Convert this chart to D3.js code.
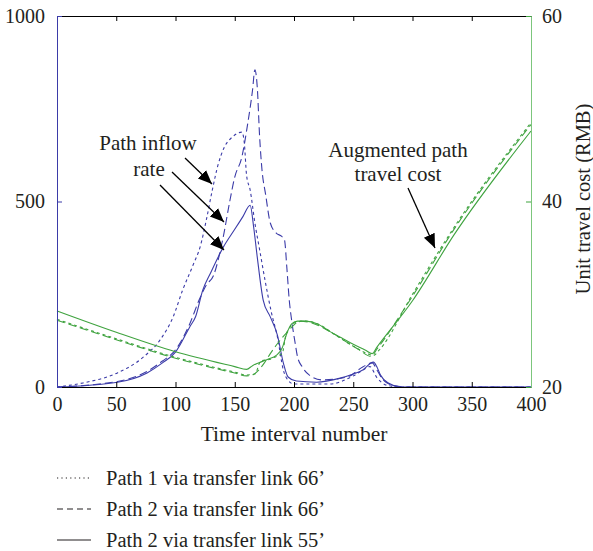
<!DOCTYPE html>
<html>
<head>
<meta charset="utf-8">
<script src="https://cdn.jsdelivr.net/npm/d3@7"></script>
<style>
  body { margin: 0; background: #fff; }
  text { font-family: "Liberation Serif", "DejaVu Serif", serif; fill: #231f20; }
</style>
</head>
<body>
<script>
// ejes
const xTicks = [0, 50, 100, 150, 200, 250, 300, 350, 400];
const leftTicks = [0, 500, 1000];
const rightTicks = [20, 40, 60];

// tasa de entrada (eje izquierdo)
const p1InX = [0, 22, 51, 73, 87, 98, 106, 115, 121, 126, 131, 136, 141, 148, 156, 158, 160, 163, 167, 171, 176, 181, 186, 191, 195, 200, 230, 250, 258, 264, 270, 278, 290, 400];
const p1InY = [0, 11, 38, 81, 127, 189, 261, 330, 380, 450, 530, 600, 645, 674, 687, 660, 570, 531, 442, 370, 280, 200, 135, 46, 18, 8, 8, 30, 45, 55, 25, 5, 0, 0];

const p2aInX = [0, 51, 76, 89, 100, 112, 120, 126, 132, 140, 146, 150, 156, 161, 165, 167, 169, 171, 173, 176, 180, 185, 190, 192, 194, 196, 198, 201, 203, 207, 213, 224, 245, 258, 266, 270, 275, 285, 295, 400];
const p2aInY = [0, 15, 42, 70, 100, 170, 235, 275, 300, 400, 504, 566, 620, 711, 800, 855, 808, 674, 585, 520, 442, 415, 405, 396, 320, 234, 180, 118, 81, 54, 32, 19, 27, 54, 65, 46, 20, 3, 0, 0];

const p2bInX = [0, 51, 76, 89, 100, 112, 117, 123, 130, 140, 150, 157, 163, 166, 169, 174, 180, 186, 191, 195, 202, 219, 239, 250, 258, 267, 270, 273, 280, 290, 400];
const p2bInY = [0, 13, 38, 65, 94, 162, 190, 261, 310, 375, 425, 460, 490, 430, 350, 234, 189, 140, 65, 27, 16, 13, 24, 35, 46, 67, 54, 32, 10, 0, 0];

// costo (eje derecho)
const p1CostX = [0, 50, 100, 150, 160, 167, 172, 180, 185, 190, 193, 197, 202, 210, 220, 235, 250, 262, 267, 272, 300, 335, 400];
const p1CostY = [27.3, 25.2, 23.2, 21.6, 21.3, 21.4, 22.8, 23.0, 23.3, 23.6, 25.5, 26.5, 27.0, 27.1, 26.8, 25.6, 24.4, 23.6, 23.4, 24.0, 30.0, 37.2, 48.5];

const p2aCostX = [0, 50, 100, 150, 160, 165, 170, 175, 180, 185, 190, 195, 200, 205, 215, 230, 245, 255, 265, 270, 300, 335, 400];
const p2aCostY = [27.2, 25.1, 23.1, 21.5, 21.2, 21.3, 21.8, 22.6, 23.6, 24.5, 25.3, 26.0, 26.7, 27.1, 26.9, 26.0, 24.8, 24.0, 23.3, 24.1, 29.8, 37.0, 48.3];

const p2bCostX = [0, 50, 100, 150, 160, 165, 170, 178, 185, 190, 194, 198, 203, 210, 220, 230, 240, 250, 260, 266, 270, 300, 335, 400];
const p2bCostY = [28.2, 25.9, 23.8, 22.2, 21.9, 22.3, 22.6, 23.0, 23.4, 24.2, 25.8, 26.8, 27.1, 27.1, 26.8, 26.0, 25.3, 24.6, 24.0, 23.6, 24.3, 29.3, 36.4, 47.6];

const legendLabels = ["Path 1 via transfer link 66’", "Path 2 via transfer link 66’", "Path 2 via transfer link 55’"];
const dashes = ["3,3", "8,4", null];

const blue = "#3b3ba8";
const green = "#3fa33f";

const svg = d3.select("body").append("svg").attr("width", 593).attr("height", 551);

const x = d3.scaleLinear().domain([0, 400]).range([57, 531]);
const yL = d3.scaleLinear().domain([0, 1000]).range([387, 16]);
const yR = d3.scaleLinear().domain([20, 60]).range([387, 16]);

svg.append("defs").append("marker")
  .attr("id", "head").attr("viewBox", "0 0 10 10")
  .attr("refX", 10).attr("refY", 5)
  .attr("markerWidth", 14).attr("markerHeight", 14)
  .attr("markerUnits", "userSpaceOnUse")
  .attr("orient", "auto")
  .append("path").attr("d", "M0,0.8 L10,5 L0,9.2 Z").attr("fill", "#000");

// series
const series = [
  { xs: p1InX, ys: p1InY, y: yL, c: blue, d: dashes[0] },
  { xs: p2aInX, ys: p2aInY, y: yL, c: blue, d: dashes[1] },
  { xs: p2bInX, ys: p2bInY, y: yL, c: blue, d: dashes[2] },
  { xs: p1CostX, ys: p1CostY, y: yR, c: green, d: dashes[0] },
  { xs: p2aCostX, ys: p2aCostY, y: yR, c: green, d: dashes[1] },
  { xs: p2bCostX, ys: p2bCostY, y: yR, c: green, d: dashes[2] }
];

series.forEach(s => {
  const line = d3.line().x(i => x(s.xs[i])).y(i => s.y(s.ys[i])).curve(d3.curveMonotoneX);
  svg.append("path")
    .attr("d", line(d3.range(s.xs.length)))
    .attr("fill", "none")
    .attr("stroke", s.c)
    .attr("stroke-width", 1.1)
    .attr("stroke-dasharray", s.d);
});

// marco y ticks
svg.append("g").attr("transform", "translate(0,387)")
  .call(d3.axisBottom(x).tickValues(xTicks).tickSize(-5).tickPadding(10).tickFormat(d3.format("d")))
  .call(g => g.select(".domain").attr("stroke", "#000"))
  .call(g => g.selectAll(".tick line").attr("stroke", "#000"))
  .call(g => g.selectAll("text").attr("font-size", 20).attr("fill", "#231f20").attr("font-family", "Liberation Serif"));

svg.append("g").attr("transform", "translate(0,16)")
  .call(d3.axisTop(x).tickValues(xTicks).tickSize(-5).tickFormat(""))
  .call(g => g.select(".domain").attr("stroke", "#000"))
  .call(g => g.selectAll(".tick line").attr("stroke", "#000"));

svg.append("g").attr("transform", "translate(57,0)")
  .call(d3.axisLeft(yL).tickValues(leftTicks).tickSize(-5).tickPadding(12).tickFormat(d3.format("d")))
  .call(g => g.select(".domain").attr("stroke", blue))
  .call(g => g.selectAll(".tick line").attr("stroke", blue))
  .call(g => g.selectAll("text").attr("font-size", 20).attr("fill", "#231f20").attr("font-family", "Liberation Serif"));

svg.append("g").attr("transform", "translate(531,0)")
  .call(d3.axisRight(yR).tickValues(rightTicks).tickSize(-5).tickPadding(11).tickFormat(d3.format("d")))
  .call(g => g.select(".domain").attr("stroke", "#7cc67c"))
  .call(g => g.selectAll(".tick line").attr("stroke", green))
  .call(g => g.selectAll("text").attr("font-size", 20).attr("fill", "#231f20").attr("font-family", "Liberation Serif"));

// titulos
svg.append("text").attr("x", 294).attr("y", 441).attr("text-anchor", "middle")
  .attr("font-size", 21.5).text("Time interval number");

svg.append("text").attr("transform", "translate(590,199) rotate(-90)")
  .attr("text-anchor", "middle").attr("font-size", 20.5).text("Unit travel cost (RMB)");

// anotaciones
svg.append("text").attr("x", 148).attr("y", 150).attr("text-anchor", "middle").attr("font-size", 21).text("Path inflow");
svg.append("text").attr("x", 149).attr("y", 176).attr("text-anchor", "middle").attr("font-size", 21).text("rate");
svg.append("text").attr("x", 398).attr("y", 157).attr("text-anchor", "middle").attr("font-size", 21).text("Augmented path");
svg.append("text").attr("x", 398).attr("y", 181).attr("text-anchor", "middle").attr("font-size", 21).text("travel cost");

const arrows = [
  [185, 158, 212, 184],
  [172, 172, 224, 222],
  [160, 185, 224, 250],
  [408, 188, 435, 248]
];
svg.selectAll(".arrow").data(arrows).join("line")
  .attr("x1", d => d[0]).attr("y1", d => d[1]).attr("x2", d => d[2]).attr("y2", d => d[3])
  .attr("stroke", "#000").attr("stroke-width", 1.3).attr("marker-end", "url(#head)");

// leyenda
const leg = svg.selectAll(".leg").data(legendLabels).join("g")
  .attr("transform", (d, i) => `translate(57,${478 + i * 31})`);
leg.append("line").attr("x1", 0).attr("x2", 34).attr("y1", 0).attr("y2", 0)
  .attr("stroke", "#231f20").attr("stroke-width", 1.2)
  .attr("stroke-dasharray", (d, i) => i === 0 ? "1.2,3.2" : i === 1 ? "6,4" : null);
leg.append("text").attr("x", 49).attr("y", 7).attr("font-size", 20.5).text(d => d);
</script>
</body>
</html>
